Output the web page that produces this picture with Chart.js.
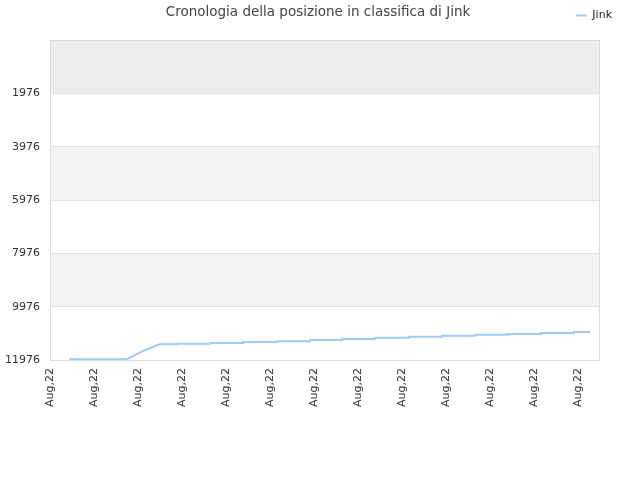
<!DOCTYPE html>
<html>
<head>
<meta charset="utf-8">
<script src="https://cdn.jsdelivr.net/npm/chart.js@4"></script>
<style>
  html, body { margin: 0; padding: 0; background: #fff; }
  #wrap { width: 640px; height: 480px; }
</style>
</head>
<body>
<div id="wrap"><canvas id="myChart"></canvas></div>
<script>
// values
const chartTitle = 'Cronologia della posizione in classifica di Jink';
const seriesName = 'Jink';
const xTickValues = [0, 1, 2, 3, 4, 5, 6, 7, 8, 9, 10, 11, 12];
const xTickLabel = 'Aug,22';
const yTickValues = [-24, 1976, 3976, 5976, 7976, 9976, 11976];
const dayX = [0.43, 1.74, 2.11, 2.49, 2.89, 3.64, 4.39, 5.15, 5.91, 6.64, 7.39, 8.16, 8.91, 9.66, 10.41, 11.16, 11.91, 12.28];
const rank = [11950, 11950, 11639, 11388, 11366, 11339, 11302, 11276, 11227, 11190, 11141, 11103, 11066, 11029, 11002, 10965, 10927, 10927];
const stepFrom = 4; // from here on the rank changes in jumps

var points = [];
for (let i = 0; i < dayX.length; i++) {
  if (i >= stepFrom) points.push({x: dayX[i], y: rank[i - 1]});
  points.push({x: dayX[i], y: rank[i]});
}

// grey bands between the y ticks, frame and title
const bands = {
  id: 'bands',
  afterLayout(chart) {
    // legend sits in the top right corner, next to the title
    const lg = chart.legend;
    const h = lg.height;
    lg.top = 0; lg.bottom = h;
    lg.left = 0; lg.right = 622;
  },
  beforeDraw(chart) {
    const ctx = chart.ctx, a = chart.chartArea, y = chart.scales.y;
    for (let i = 0; i < yTickValues.length - 1; i++) {
      let col = i == 0 ? '#ededed' : (i % 2 == 0 ? '#f3f3f3' : '#ffffff');
      let t = y.getPixelForValue(yTickValues[i]);
      let b = y.getPixelForValue(yTickValues[i + 1]);
      ctx.fillStyle = col;
      ctx.fillRect(a.left, t, a.right - a.left, b - t);
    }
  },
  afterDraw(chart) {
    const ctx = chart.ctx, a = chart.chartArea;
    ctx.save();
    ctx.strokeStyle = '#dcdcdc';
    ctx.lineWidth = 1;
    ctx.strokeRect(a.left + 0.5, a.top + 0.5, a.right - a.left - 1, a.bottom - a.top);
    ctx.fillStyle = '#444';
    ctx.font = '13.5px "DejaVu Sans"';
    ctx.textAlign = 'center';
    ctx.textBaseline = 'middle';
    ctx.fillText(chartTitle, 318, 12);
    ctx.restore();
  }
};

const ctx = document.getElementById('myChart').getContext('2d');
new Chart(ctx, {
  type: 'line',
  data: {
    datasets: [{
      label: seriesName,
      data: points,
      borderColor: '#9fcbf4',
      backgroundColor: '#9fcbf4',
      borderWidth: 2,
      pointRadius: 0,
      tension: 0
    }]
  },
  options: {
    responsive: true,
    maintainAspectRatio: false,
    animation: false,
    layout: { padding: { left: 0, right: 40, top: 0, bottom: 0 } },
    plugins: {
      legend: {
        position: 'top',
        align: 'end',
        labels: {
          boxWidth: 11,
          boxHeight: 2,
          color: '#222',
          font: { family: 'DejaVu Sans', size: 11 },
          padding: 10,
          generateLabels: chart => Chart.defaults.plugins.legend.labels.generateLabels(chart)
            .map(l => Object.assign(l, { lineWidth: 0 }))
        }
      },
      tooltip: { enabled: false }
    },
    scales: {
      x: {
        type: 'linear',
        min: 0,
        max: 12.5,
        afterBuildTicks: s => { s.ticks = xTickValues.map(v => ({value: v})); },
        afterFit: s => { s.height = 120; },
        grid: { display: false, drawTicks: false },
        border: { display: false },
        ticks: {
          callback: () => xTickLabel,
          maxRotation: 90,
          minRotation: 90,
          padding: 8,
          color: '#333',
          font: { family: 'DejaVu Sans', size: 11 }
        }
      },
      y: {
        reverse: true,
        min: -24,
        max: 11976,
        afterBuildTicks: s => { s.ticks = yTickValues.map(v => ({value: v})); },
        afterFit: s => { s.width = 50; s.paddingTop = 40; },
        grid: { color: '#e2e2e2', drawTicks: false },
        border: { display: false },
        ticks: {
          callback: v => (v < 0 ? '' : v),
          padding: 10,
          color: '#333',
          font: { family: 'DejaVu Sans', size: 11 }
        }
      }
    }
  },
  plugins: [bands]
});
</script>
</body>
</html>
